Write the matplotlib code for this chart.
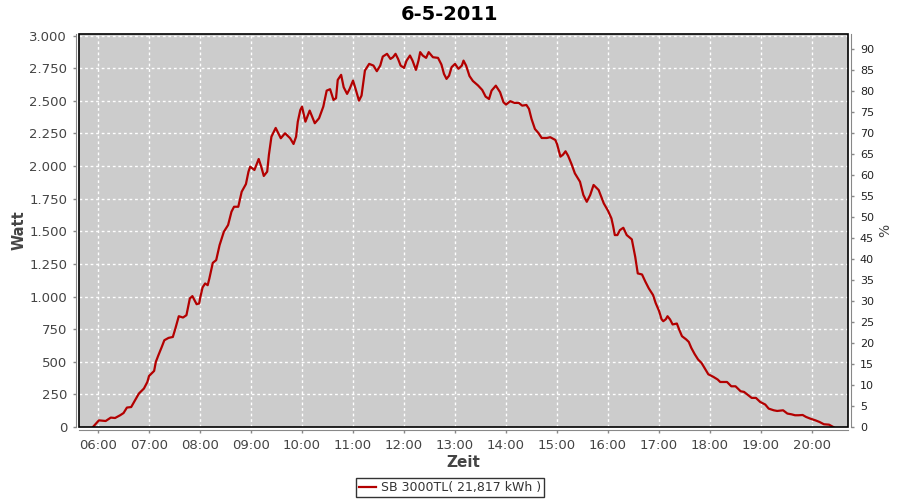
import matplotlib

matplotlib.use("Agg")
import matplotlib.dates as mdates
import matplotlib.pyplot as plt
import pandas as pd
from matplotlib.patches import Rectangle
from matplotlib.ticker import FuncFormatter

DAY = "2011-05-06"
TITLE = "6-5-2011"
SERIES = "SB 3000TL( 21,817 kWh )"

# readings of the inverter
times = [
    "05:54", "06:01", "06:09", "06:15", "06:20", "06:26", "06:30", "06:34", "06:39", "06:44",
    "06:48", "06:54", "06:58", "07:00", "07:06", "07:08", "07:11", "07:15", "07:18", "07:23",
    "07:28", "07:31", "07:35", "07:40", "07:44", "07:48", "07:51", "07:56", "07:59", "08:00",
    "08:03", "08:06", "08:09", "08:11", "08:15", "08:19", "08:23", "08:28", "08:33", "08:37",
    "08:40", "08:45", "08:49", "08:54", "08:57", "08:59", "09:04", "09:09", "09:12", "09:15",
    "09:19", "09:21", "09:24", "09:29", "09:35", "09:40", "09:46", "09:50", "09:53", "09:55",
    "09:58", "10:00", "10:04", "10:09", "10:15", "10:20", "10:25", "10:29", "10:33", "10:37",
    "10:40", "10:42", "10:46", "10:49", "10:53", "10:56", "11:00", "11:03", "11:07", "11:10",
    "11:14", "11:19", "11:24", "11:28", "11:32", "11:35", "11:40", "11:44", "11:47", "11:50",
    "11:53", "11:56", "12:00", "12:03", "12:07", "12:10", "12:14", "12:17", "12:19", "12:22",
    "12:26", "12:29", "12:34", "12:40", "12:44", "12:47", "12:50", "12:53", "12:56", "13:00",
    "13:04", "13:08", "13:10", "13:13", "13:17", "13:21", "13:27", "13:32", "13:36", "13:40",
    "13:43", "13:48", "13:53", "13:57", "14:00", "14:05", "14:10", "14:15", "14:19", "14:24",
    "14:27", "14:30", "14:34", "14:38", "14:42", "14:48", "14:52", "14:58", "15:00", "15:04",
    "15:07", "15:10", "15:13", "15:17", "15:21", "15:27", "15:31", "15:35", "15:39", "15:43",
    "15:49", "15:55", "16:00", "16:04", "16:06", "16:08", "16:11", "16:14", "16:18", "16:22",
    "16:28", "16:30", "16:32", "16:35", "16:40", "16:44", "16:48", "16:53", "16:56", "17:00",
    "17:03", "17:05", "17:08", "17:10", "17:13", "17:16", "17:21", "17:24", "17:27", "17:32",
    "17:35", "17:38", "17:42", "17:46", "17:50", "17:54", "17:58", "18:04", "18:09", "18:12",
    "18:20", "18:25", "18:30", "18:36", "18:40", "18:45", "18:49", "18:54", "18:59", "19:05",
    "19:09", "19:15", "19:19", "19:26", "19:31", "19:36", "19:40", "19:44", "19:49", "19:53",
    "19:58", "20:04", "20:09", "20:14", "20:20", "20:25",
]
watt = [
    0, 51, 46, 72, 69, 90, 107, 149, 153, 210,
    256, 295, 345, 391, 430, 499, 550, 614, 665, 683,
    690, 755, 849, 839, 857, 985, 1003, 941, 947, 985,
    1070, 1100, 1087, 1139, 1258, 1279, 1394, 1496, 1548, 1650,
    1688, 1688, 1803, 1862, 1957, 1995, 1970, 2054, 1995, 1924,
    1957, 2085, 2225, 2292, 2213, 2251, 2213, 2169, 2225, 2340,
    2430, 2455, 2340, 2425, 2328, 2366, 2455, 2578, 2589, 2507,
    2520, 2660, 2699, 2604, 2553, 2591, 2655, 2591, 2501, 2540,
    2732, 2783, 2770, 2727, 2770, 2839, 2860, 2821, 2834, 2860,
    2821, 2770, 2752, 2808, 2847, 2808, 2737, 2808, 2873, 2847,
    2829, 2873, 2834, 2829, 2778, 2706, 2668, 2693, 2758, 2783,
    2745, 2770, 2808, 2770, 2690, 2652, 2618, 2583, 2532, 2514,
    2578, 2616, 2566, 2489, 2471, 2497, 2484, 2484, 2463, 2468,
    2438, 2361, 2284, 2254, 2215, 2215, 2221, 2200, 2169, 2072,
    2087, 2113, 2079, 2016, 1944, 1880, 1778, 1726, 1778, 1855,
    1816, 1714, 1657, 1599, 1540, 1471, 1471, 1509, 1527, 1471,
    1438, 1369, 1304, 1177, 1169, 1113, 1062, 1011, 951, 890,
    826, 811, 826, 849, 824, 786, 793, 742, 696, 671,
    652, 606, 558, 517, 491, 448, 404, 384, 364, 345,
    345, 312, 312, 274, 269, 243, 223, 223, 192, 172,
    141, 128, 123, 128, 103, 97, 90, 90, 92, 77,
    64, 51, 38, 21, 18, 0,
]

watt_ticks = list(range(0, 3001, 250))
pct_ticks = list(range(0, 91, 5))

t = pd.to_datetime([f"{DAY} {s}" for s in times])

fig = plt.figure(figsize=(9, 5), dpi=100)
ax = fig.add_axes([79 / 900, 73 / 500, 769 / 900, 393 / 500])
ax.set_facecolor("#cccccc")

ax.plot(t, watt, color="#b30000", lw=1.6, label=SERIES, zorder=3)

ax.set_xlim(pd.Timestamp(f"{DAY} 05:37:36"), pd.Timestamp(f"{DAY} 20:42:20"))
ax.set_ylim(0, 3012)
ax.set_yticks(watt_ticks)
ax.yaxis.set_major_formatter(FuncFormatter(lambda v, p: f"{int(v):,}".replace(",", ".")))
ax.xaxis.set_major_locator(mdates.HourLocator())
ax.xaxis.set_major_formatter(mdates.DateFormatter("%H:%M"))

ax.grid(True, color="white", linestyle=(0, (2, 2)), lw=1.0)
ax.set_axisbelow(True)

for side in ("top", "right"):
    ax.spines[side].set_visible(False)
for side in ("left", "bottom"):
    ax.spines[side].set_position(("outward", 2.5))
    ax.spines[side].set_color("#888888")
ax.tick_params(colors="#888888", labelcolor="#444444", labelsize=9.5, length=2.5, width=1)
ax.set_ylabel("Watt", fontsize=10.5, fontweight="bold", color="#444444", labelpad=2)
ax.set_xlabel("Zeit", fontsize=11, fontweight="bold", color="#444444", labelpad=2)

# black frame around the plot area
ax.add_patch(Rectangle((0, 0), 1, 1, transform=ax.transAxes, fill=False,
                       edgecolor="black", lw=1.2, clip_on=False, zorder=5))

ax2 = ax.twinx()
ax2.set_ylim(0, 93.6)
ax2.set_yticks(pct_ticks)
for side in ("top", "left", "bottom"):
    ax2.spines[side].set_visible(False)
ax2.spines["right"].set_position(("outward", 2.5))
ax2.spines["right"].set_color("#888888")
ax2.tick_params(colors="#888888", labelcolor="#222222", labelsize=8, length=2.5, width=1)
ax2.set_ylabel("%", fontsize=10, color="#444444", labelpad=3)

fig.suptitle(TITLE, x=0.5, y=0.972, va="center", fontsize=14, fontweight="bold")

leg = fig.legend(loc="center", bbox_to_anchor=(0.5, 0.025), fontsize=9, frameon=True,
                 fancybox=False, handlelength=1.3, handletextpad=0.4, borderpad=0.25,
                 labelcolor="#333333")
leg.get_frame().set_edgecolor("black")
leg.get_frame().set_linewidth(1.0)

fig.savefig("out.png", dpi=100)
